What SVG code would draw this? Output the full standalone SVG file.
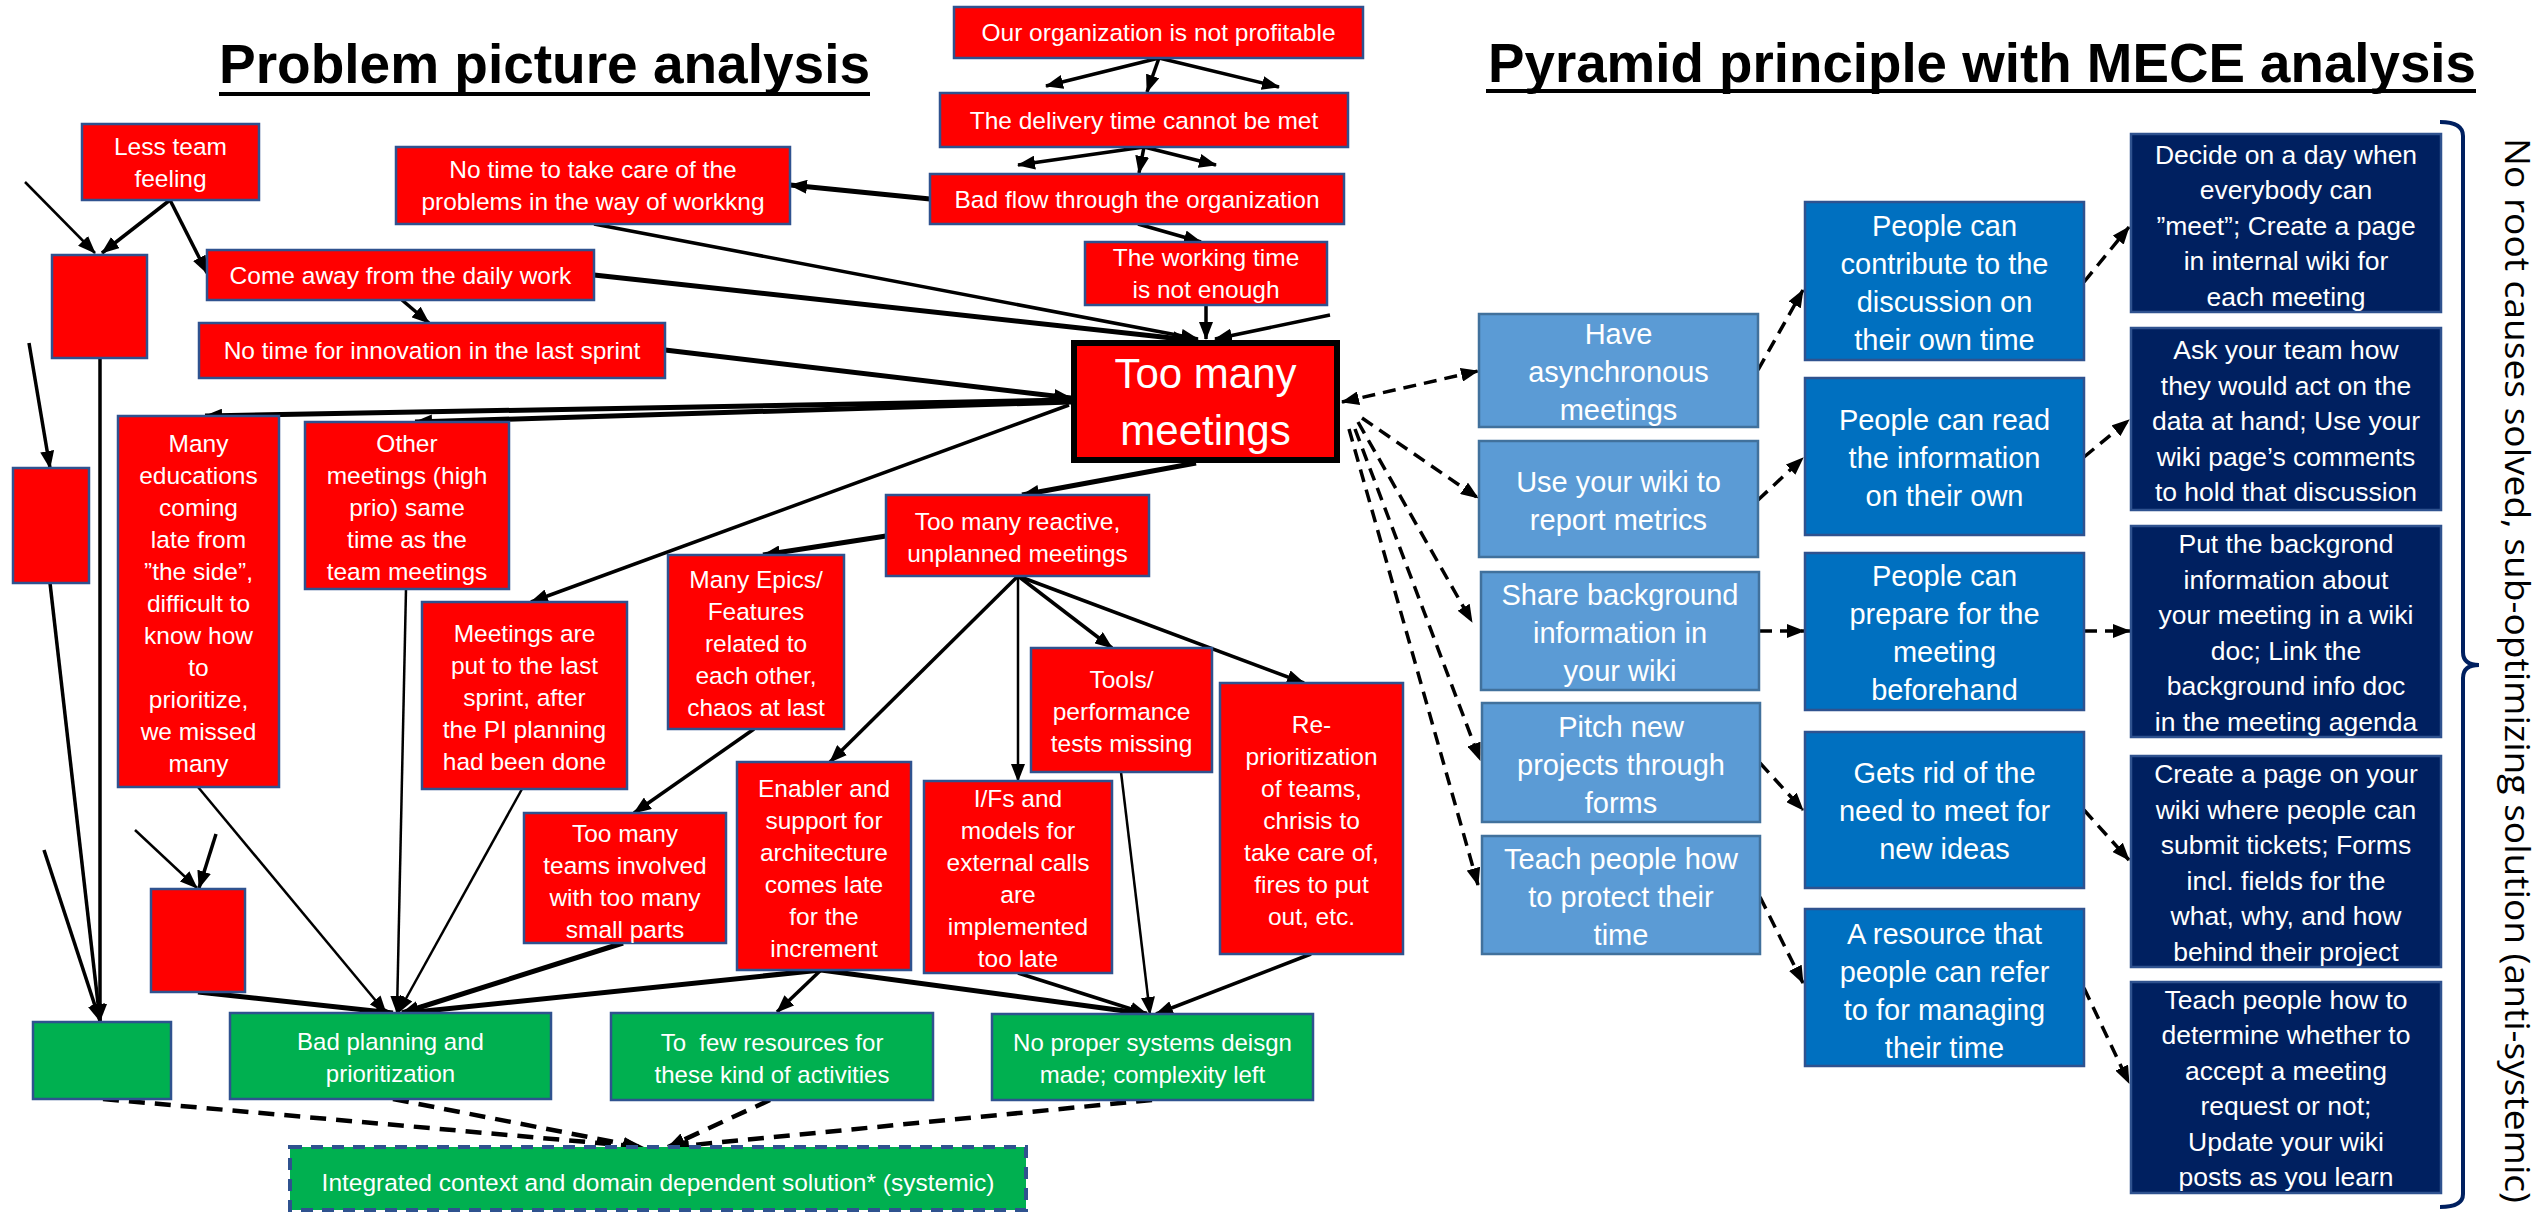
<svg xmlns="http://www.w3.org/2000/svg" width="2542" height="1213" viewBox="0 0 2542 1213">
<defs>
<marker id="ah" viewBox="0 0 18 14" markerWidth="18" markerHeight="14" refX="17" refY="7" orient="auto-start-reverse" markerUnits="userSpaceOnUse"><path d="M0,0 L18,7 L0,14 z" fill="#000"/></marker>
<style>
.r{fill:#FF0000;stroke:#2F528F;stroke-width:2.5}
.g{fill:#00B050;stroke:#2F528F;stroke-width:2.5}
.lb{fill:#5B9BD5;stroke:#41719C;stroke-width:2.5}
.b{fill:#0070C0;stroke:#2F528F;stroke-width:2.5}
.nv{fill:#002060;stroke:#2F528F;stroke-width:2.5}
text{font-family:"Liberation Sans",Arial,sans-serif;fill:#fff;text-anchor:middle}
.f24{font-size:24.5px}
.f29{font-size:29px}
.f26{font-size:26.5px}
.title{font-family:"Liberation Sans",Arial,sans-serif;font-weight:bold;font-size:56px;fill:#000;text-anchor:start}
.c{stroke:#000;stroke-width:3.5;fill:none;marker-end:url(#ah)}
.ct{stroke:#000;stroke-width:2.5;fill:none;marker-end:url(#ah)}
.ck{stroke:#000;stroke-width:5;fill:none;marker-end:url(#ah)}
.d{stroke:#000;stroke-width:3.5;stroke-dasharray:13 8;fill:none;marker-end:url(#ah)}
.dk{stroke:#000;stroke-width:4.5;stroke-dasharray:16 10;fill:none;marker-end:url(#ah)}
</style>
</defs>

<g id="titles">
<text class="title" x="219" y="83" textLength="651" lengthAdjust="spacingAndGlyphs">Problem picture analysis</text>
<rect x="219" y="92" width="651" height="4" fill="#000"/>
<text class="title" x="1488" y="82" textLength="988" lengthAdjust="spacingAndGlyphs">Pyramid principle with MECE analysis</text>
<rect x="1486" y="89" width="990" height="4" fill="#000"/>
</g>

<g id="connectors">
<line class="c" x1="1159" y1="58" x2="1046" y2="86"/>
<line class="c" x1="1159" y1="58" x2="1147" y2="92"/>
<line class="c" x1="1159" y1="58" x2="1279" y2="87"/>
<line class="c" x1="1144" y1="147" x2="1018" y2="165"/>
<line class="c" x1="1144" y1="147" x2="1139" y2="173"/>
<line class="c" x1="1144" y1="147" x2="1216" y2="165"/>
<line class="ck" x1="930" y1="199" x2="790" y2="185"/>
<line class="c" x1="1138" y1="224" x2="1201" y2="242"/>
<line class="c" x1="1206" y1="305" x2="1206" y2="339"/>
<line class="c" x1="1330" y1="315" x2="1215" y2="339"/>
<line class="c" x1="594" y1="224" x2="1198" y2="339"/>
<line class="ck" x1="594" y1="275" x2="1190" y2="340"/>
<line class="ck" x1="665" y1="350" x2="1071" y2="398"/>
<line class="ck" x1="1071" y1="400" x2="205" y2="416"/>
<line class="ck" x1="1071" y1="402" x2="415" y2="422"/>
<line class="c" x1="1069" y1="405" x2="531" y2="602"/>
<line class="ck" x1="1196" y1="463" x2="1022" y2="495"/>
<line class="ck" x1="886" y1="536" x2="763" y2="555"/>
<line class="c" x1="1018" y1="576" x2="830" y2="762"/>
<line class="ct" x1="1018" y1="576" x2="1018" y2="781"/>
<line class="c" x1="1018" y1="576" x2="1112" y2="648"/>
<line class="c" x1="1018" y1="576" x2="1304" y2="683"/>
<line class="c" x1="754" y1="729" x2="634" y2="813"/>
<line class="ct" x1="25" y1="182" x2="95" y2="253"/>
<line class="c" x1="170" y1="200" x2="102" y2="253"/>
<line class="c" x1="170" y1="200" x2="207" y2="273"/>
<line class="c" x1="402" y1="300" x2="429" y2="323"/>
<line class="c" x1="29" y1="343" x2="50" y2="468"/>
<line class="c" x1="100" y1="358" x2="100" y2="1021"/>
<line class="c" x1="50" y1="583" x2="100" y2="1021"/>
<line class="c" x1="44" y1="850" x2="100" y2="1021"/>
<line class="ct" x1="135" y1="830" x2="197" y2="888"/>
<line class="c" x1="216" y1="834" x2="199" y2="888"/>
<line class="ck" x1="198" y1="992" x2="393" y2="1013"/>
<line class="ct" x1="198" y1="787" x2="386" y2="1013"/>
<line class="ct" x1="406" y1="589" x2="397" y2="1013"/>
<line class="ct" x1="522" y1="789" x2="398" y2="1013"/>
<line class="ck" x1="623" y1="943" x2="402" y2="1013"/>
<line class="ck" x1="821" y1="970" x2="406" y2="1013"/>
<line class="c" x1="821" y1="970" x2="777" y2="1012"/>
<line class="ck" x1="821" y1="970" x2="1147" y2="1014"/>
<line class="c" x1="1018" y1="973" x2="1147" y2="1014"/>
<line class="ct" x1="1121" y1="772" x2="1150" y2="1014"/>
<line class="c" x1="1311" y1="954" x2="1156" y2="1014"/>
<line class="dk" x1="103" y1="1099" x2="643" y2="1147"/>
<line class="dk" x1="393" y1="1099" x2="640" y2="1147"/>
<line class="dk" x1="770" y1="1100" x2="668" y2="1147"/>
<line class="dk" x1="1152" y1="1100" x2="672" y2="1147"/>
<line class="d" x1="1342" y1="402" x2="1478" y2="371" marker-start="url(#ah)"/>
<line class="d" x1="1362" y1="418" x2="1478" y2="498"/>
<line class="d" x1="1358" y1="422" x2="1472" y2="622"/>
<line class="d" x1="1355" y1="429" x2="1480" y2="760"/>
<line class="d" x1="1349" y1="429" x2="1478" y2="885"/>
<line class="d" x1="1758" y1="370" x2="1803" y2="290"/>
<line class="d" x1="1758" y1="500" x2="1803" y2="458"/>
<line class="d" x1="1759" y1="631" x2="1804" y2="631"/>
<line class="d" x1="1760" y1="763" x2="1803" y2="810"/>
<line class="d" x1="1760" y1="897" x2="1803" y2="983"/>
<line class="d" x1="2084" y1="282" x2="2129" y2="227"/>
<line class="d" x1="2084" y1="457" x2="2129" y2="420"/>
<line class="d" x1="2084" y1="631" x2="2130" y2="631"/>
<line class="d" x1="2084" y1="810" x2="2129" y2="860"/>
<line class="d" x1="2084" y1="988" x2="2129" y2="1083"/>
</g>

<g id="n_profit"><rect class="r" x="954" y="7" width="409" height="51"/><text class="f24" x="1158.5" y="41.1">Our organization is not profitable</text></g>
<g id="n_delivery"><rect class="r" x="940" y="93" width="408" height="54"/><text class="f24" x="1144" y="128.6">The delivery time cannot be met</text></g>
<g id="n_badflow"><rect class="r" x="930" y="174" width="414" height="50"/><text class="f24" x="1137" y="207.6">Bad flow through the organization</text></g>
<g id="n_notime_care"><rect class="r" x="396" y="147" width="394" height="77"/><text class="f24"><tspan x="593" y="178.1">No time to take care of the</tspan><tspan x="593" y="210.1">problems in the way of workkng</tspan></text></g>
<g id="n_working"><rect class="r" x="1085" y="242" width="242" height="63"/><text class="f24"><tspan x="1206" y="266.1">The working time</tspan><tspan x="1206" y="298.1">is not enough</tspan></text></g>
<g id="n_lessteam"><rect class="r" x="82" y="124" width="177" height="76"/><text class="f24"><tspan x="170.5" y="154.6">Less team</tspan><tspan x="170.5" y="186.6">feeling</tspan></text></g>
<g id="n_comeaway"><rect class="r" x="207" y="250" width="387" height="50"/><text class="f24" x="400.5" y="283.6">Come away from the daily work</text></g>
<g id="n_innovation"><rect class="r" x="199" y="323" width="466" height="55"/><text class="f24" x="432" y="359.1">No time for innovation in the last sprint</text></g>
<g id="n_toomany"><rect x="1074" y="343" width="263" height="117" fill="#FF0000" stroke="#000" stroke-width="6"/><text style="font-size:42px"><tspan x="1205.5" y="387.7">Too many</tspan><tspan x="1205.5" y="444.7">meetings</tspan></text></g>
<g id="n_redA"><rect class="r" x="52" y="255" width="95" height="103"/></g>
<g id="n_redB"><rect class="r" x="13" y="468" width="76" height="115"/></g>
<g id="n_redC"><rect class="r" x="151" y="889" width="94" height="103"/></g>
<g id="n_educations"><rect class="r" x="118" y="416" width="161" height="371"/><text class="f24"><tspan x="198.5" y="451.6">Many</tspan><tspan x="198.5" y="483.6">educations</tspan><tspan x="198.5" y="515.6">coming</tspan><tspan x="198.5" y="547.6">late from</tspan><tspan x="198.5" y="579.6">”the side”,</tspan><tspan x="198.5" y="611.6">difficult to</tspan><tspan x="198.5" y="643.6">know how</tspan><tspan x="198.5" y="675.6">to</tspan><tspan x="198.5" y="707.6">prioritize,</tspan><tspan x="198.5" y="739.6">we missed</tspan><tspan x="198.5" y="771.6">many</tspan></text></g>
<g id="n_othermeet"><rect class="r" x="305" y="422" width="204" height="167"/><text class="f24"><tspan x="407" y="451.6">Other</tspan><tspan x="407" y="483.6">meetings (high</tspan><tspan x="407" y="515.6">prio) same</tspan><tspan x="407" y="547.6">time as the</tspan><tspan x="407" y="579.6">team meetings</tspan></text></g>
<g id="n_putlast"><rect class="r" x="422" y="602" width="205" height="187"/><text class="f24"><tspan x="524.5" y="641.6">Meetings are</tspan><tspan x="524.5" y="673.6">put to the last</tspan><tspan x="524.5" y="705.6">sprint, after</tspan><tspan x="524.5" y="737.6">the PI planning</tspan><tspan x="524.5" y="769.6">had been done</tspan></text></g>
<g id="n_reactive"><rect class="r" x="886" y="495" width="263" height="81"/><text class="f24"><tspan x="1017.5" y="530.1">Too many reactive,</tspan><tspan x="1017.5" y="562.1">unplanned meetings</tspan></text></g>
<g id="n_epics"><rect class="r" x="668" y="555" width="176" height="174"/><text class="f24"><tspan x="756" y="587.6">Many Epics/</tspan><tspan x="756" y="619.6">Features</tspan><tspan x="756" y="651.6">related to</tspan><tspan x="756" y="683.6">each other,</tspan><tspan x="756" y="715.6">chaos at last</tspan></text></g>
<g id="n_tools"><rect class="r" x="1031" y="648" width="181" height="124"/><text class="f24"><tspan x="1121.5" y="687.6">Tools/</tspan><tspan x="1121.5" y="719.6">performance</tspan><tspan x="1121.5" y="751.6">tests missing</tspan></text></g>
<g id="n_reprio"><rect class="r" x="1220" y="683" width="183" height="271"/><text class="f24"><tspan x="1311.5" y="733.1">Re-</tspan><tspan x="1311.5" y="765.1">prioritization</tspan><tspan x="1311.5" y="797.1">of teams,</tspan><tspan x="1311.5" y="829.1">chrisis to</tspan><tspan x="1311.5" y="861.1">take care of,</tspan><tspan x="1311.5" y="893.1">fires to put</tspan><tspan x="1311.5" y="925.1">out, etc.</tspan></text></g>
<g id="n_enabler"><rect class="r" x="737" y="762" width="174" height="208"/><text class="f24"><tspan x="824" y="796.6">Enabler and</tspan><tspan x="824" y="828.6">support for</tspan><tspan x="824" y="860.6">architecture</tspan><tspan x="824" y="892.6">comes late</tspan><tspan x="824" y="924.6">for the</tspan><tspan x="824" y="956.6">increment</tspan></text></g>
<g id="n_ifs"><rect class="r" x="924" y="781" width="188" height="192"/><text class="f24"><tspan x="1018" y="806.6">I/Fs and</tspan><tspan x="1018" y="838.6">models for</tspan><tspan x="1018" y="870.6">external calls</tspan><tspan x="1018" y="902.6">are</tspan><tspan x="1018" y="934.6">implemented</tspan><tspan x="1018" y="966.6">too late</tspan></text></g>
<g id="n_toomanyteams"><rect class="r" x="524" y="813" width="202" height="130"/><text class="f24"><tspan x="625" y="841.6">Too many</tspan><tspan x="625" y="873.6">teams involved</tspan><tspan x="625" y="905.6">with too many</tspan><tspan x="625" y="937.6">small parts</tspan></text></g>

<g id="g_empty"><rect class="g" x="33" y="1022" width="138" height="77"/></g>
<g id="g_badplan"><rect class="g" x="230" y="1013" width="321" height="86"/><text style="font-size:24px"><tspan x="390.5" y="1049.9">Bad planning and</tspan><tspan x="390.5" y="1081.9">prioritization</tspan></text></g>
<g id="g_fewres"><rect class="g" x="611" y="1013" width="322" height="87"/><text style="font-size:24px" xml:space="preserve"><tspan x="772" y="1050.9">To  few resources for</tspan><tspan x="772" y="1082.9">these kind of activities</tspan></text></g>
<g id="g_noproper"><rect class="g" x="992" y="1014" width="321" height="86"/><text style="font-size:24px"><tspan x="1152.5" y="1050.9">No proper systems deisgn</tspan><tspan x="1152.5" y="1082.9">made; complexity left</tspan></text></g>
<g id="g_integrated"><rect x="290" y="1147" width="736" height="63" fill="#00B050" stroke="#2F528F" stroke-width="4" stroke-dasharray="12 9"/><text class="f24" x="658" y="1191">Integrated context and domain dependent solution* (systemic)</text></g>

<g id="lb_async"><rect class="lb" x="1479" y="314" width="279" height="113"/><text class="f29"><tspan x="1618.5" y="344.2">Have</tspan><tspan x="1618.5" y="382.2">asynchronous</tspan><tspan x="1618.5" y="420.2">meetings</tspan></text></g>
<g id="lb_wiki"><rect class="lb" x="1479" y="441" width="279" height="116"/><text class="f29"><tspan x="1618.5" y="492.2">Use your wiki to</tspan><tspan x="1618.5" y="530.2">report metrics</tspan></text></g>
<g id="lb_share"><rect class="lb" x="1481" y="572" width="278" height="118"/><text class="f29"><tspan x="1620" y="605.2">Share background</tspan><tspan x="1620" y="643.2">information in</tspan><tspan x="1620" y="681.2">your wiki</tspan></text></g>
<g id="lb_pitch"><rect class="lb" x="1482" y="703" width="278" height="119"/><text class="f29"><tspan x="1621" y="736.7">Pitch new</tspan><tspan x="1621" y="774.7">projects through</tspan><tspan x="1621" y="812.7">forms</tspan></text></g>
<g id="lb_teach"><rect class="lb" x="1482" y="836" width="278" height="118"/><text class="f29"><tspan x="1621" y="868.7">Teach people how</tspan><tspan x="1621" y="906.7">to protect their</tspan><tspan x="1621" y="944.7">time</tspan></text></g>

<g id="b_contrib"><rect class="b" x="1805" y="202" width="279" height="158"/><text class="f29"><tspan x="1944.5" y="236.2">People can</tspan><tspan x="1944.5" y="274.2">contribute to the</tspan><tspan x="1944.5" y="312.2">discussion on</tspan><tspan x="1944.5" y="350.2">their own time</tspan></text></g>
<g id="b_read"><rect class="b" x="1805" y="378" width="279" height="157"/><text class="f29"><tspan x="1944.5" y="430.2">People can read</tspan><tspan x="1944.5" y="468.2">the information</tspan><tspan x="1944.5" y="506.2">on their own</tspan></text></g>
<g id="b_prepare"><rect class="b" x="1805" y="553" width="279" height="157"/><text class="f29"><tspan x="1944.5" y="586.2">People can</tspan><tspan x="1944.5" y="624.2">prepare for the</tspan><tspan x="1944.5" y="662.2">meeting</tspan><tspan x="1944.5" y="700.2">beforehand</tspan></text></g>
<g id="b_getsrid"><rect class="b" x="1805" y="732" width="279" height="156"/><text class="f29"><tspan x="1944.5" y="783.2">Gets rid of the</tspan><tspan x="1944.5" y="821.2">need to meet for</tspan><tspan x="1944.5" y="859.2">new ideas</tspan></text></g>
<g id="b_resource"><rect class="b" x="1805" y="909" width="279" height="157"/><text class="f29"><tspan x="1944.5" y="943.7">A resource that</tspan><tspan x="1944.5" y="981.7">people can refer</tspan><tspan x="1944.5" y="1019.7">to for managing</tspan><tspan x="1944.5" y="1057.7">their time</tspan></text></g>

<g id="nv_decide"><rect class="nv" x="2131" y="134" width="310" height="178"/><text class="f26"><tspan x="2286" y="163.8">Decide on a day when</tspan><tspan x="2286" y="199.3">everybody can</tspan><tspan x="2286" y="234.8">”meet”; Create a page</tspan><tspan x="2286" y="270.3">in internal wiki for</tspan><tspan x="2286" y="305.8">each meeting</tspan></text></g>
<g id="nv_ask"><rect class="nv" x="2131" y="328" width="310" height="182"/><text class="f26"><tspan x="2286" y="359.3">Ask your team how</tspan><tspan x="2286" y="394.8">they would act on the</tspan><tspan x="2286" y="430.3">data at hand; Use your</tspan><tspan x="2286" y="465.8">wiki page’s comments</tspan><tspan x="2286" y="501.3">to hold that discussion</tspan></text></g>
<g id="nv_put"><rect class="nv" x="2131" y="526" width="310" height="211"/><text class="f26"><tspan x="2286" y="553">Put the backgrond</tspan><tspan x="2286" y="588.5">information about</tspan><tspan x="2286" y="624">your meeting in a wiki</tspan><tspan x="2286" y="659.5">doc; Link the</tspan><tspan x="2286" y="695">background info doc</tspan><tspan x="2286" y="730.5">in the meeting agenda</tspan></text></g>
<g id="nv_create"><rect class="nv" x="2131" y="756" width="310" height="211"/><text class="f26"><tspan x="2286" y="783">Create a page on your</tspan><tspan x="2286" y="818.5">wiki where people can</tspan><tspan x="2286" y="854">submit tickets; Forms</tspan><tspan x="2286" y="889.5">incl. fields for the</tspan><tspan x="2286" y="925">what, why, and how</tspan><tspan x="2286" y="960.5">behind their project</tspan></text></g>
<g id="nv_teach"><rect class="nv" x="2131" y="982" width="310" height="211"/><text class="f26"><tspan x="2286" y="1008.5">Teach people how to</tspan><tspan x="2286" y="1044">determine whether to</tspan><tspan x="2286" y="1079.5">accept a meeting</tspan><tspan x="2286" y="1115">request or not;</tspan><tspan x="2286" y="1150.5">Update your wiki</tspan><tspan x="2286" y="1186">posts as you learn</tspan></text></g>

<g id="brace">
<path d="M2440,122 Q2463,122 2463,136 L2463,652 Q2463,665 2479,665 Q2463,665 2463,678 L2463,1194 Q2463,1207 2440,1207" fill="none" stroke="#002060" stroke-width="4"/>
<text transform="translate(2505,138) rotate(90)" x="0" y="0" style="font-family:'Open Sans','Noto Sans',sans-serif;font-size:34px;fill:#000;text-anchor:start" textLength="1065" lengthAdjust="spacingAndGlyphs">No root causes solved, sub-optimizing solution (anti-systemic)</text>
</g>
</svg>
